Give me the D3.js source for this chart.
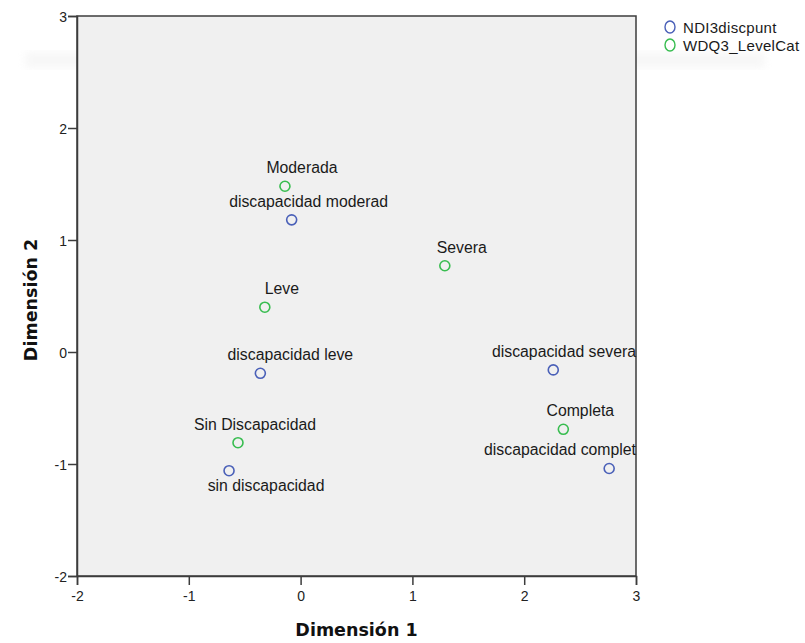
<!DOCTYPE html>
<html>
<head>
<meta charset="utf-8">
<script src="https://cdn.jsdelivr.net/npm/d3@7"></script>
<style>
  html, body { margin: 0; padding: 0; background: #fff; }
  svg { display: block; }
</style>
</head>
<body>
<svg id="chart" width="805" height="643"></svg>
<script>
// Joint category points: dimension 1 and dimension 2 coordinates per category
const ndiLabels = ["discapacidad moderad", "discapacidad leve", "discapacidad severa", "sin discapacidad", "discapacidad complet"];
const ndiDim1   = [-0.08, -0.36, 2.26, -0.64, 2.76];
const ndiDim2   = [1.18, -0.19, -0.16, -1.06, -1.04];

const wdqLabels = ["Moderada", "Severa", "Leve", "Sin Discapacidad", "Completa"];
const wdqDim1   = [-0.14, 1.29, -0.32, -0.56, 2.35];
const wdqDim2   = [1.48, 0.77, 0.40, -0.81, -0.69];

const seriesNames = ["NDI3discpunt", "WDQ3_LevelCat"];
const xTicks = [-2, -1, 0, 1, 2, 3];
const yTicks = [-2, -1, 0, 1, 2, 3];

// Label placement tweaks (side of the marker and extra horizontal nudge, px)
const labelSide  = { "sin discapacidad": "below" };
const labelNudge = { "discapacidad leve": 13, "sin discapacidad": 20 };

const colors = ["#4a60b8", "#38bd50"];

const svg = d3.select("#chart");
const plot = { left: 77, right: 636, top: 16, bottom: 576 };

const x = d3.scaleLinear().domain([-2, 3]).range([plot.left, plot.right]);
const y = d3.scaleLinear().domain([-2, 3]).range([plot.bottom, plot.top]);

// Very faint haze band near the top of the page
const defs = svg.append("defs");
defs.append("filter").attr("id", "haze")
  .append("feGaussianBlur").attr("stdDeviation", 4);
svg.append("rect")
  .attr("x", 25).attr("y", 52).attr("width", 740).attr("height", 16)
  .attr("fill", "#f0f0f0").attr("opacity", 0.55)
  .attr("filter", "url(#haze)");

// Plot background
svg.append("rect")
  .attr("x", plot.left).attr("y", plot.top)
  .attr("width", plot.right - plot.left).attr("height", plot.bottom - plot.top)
  .attr("fill", "#f0f0f0")
  .attr("stroke", "#3c3c3c").attr("stroke-width", 1.5);

// Axes (plain hyphen for negative numbers)
const axisFont = "'Liberation Sans', Arial, sans-serif";
const fmt = d => String(d);
const xAxis = svg.append("g")
  .attr("transform", `translate(0,${plot.bottom})`)
  .call(d3.axisBottom(x).tickValues(xTicks).tickFormat(fmt).tickSize(9).tickPadding(6));
const yAxis = svg.append("g")
  .attr("transform", `translate(${plot.left},0)`)
  .call(d3.axisLeft(y).tickValues(yTicks).tickFormat(fmt).tickSize(9).tickPadding(1));

[xAxis, yAxis].forEach(a => {
  a.select(".domain").attr("stroke", "#3c3c3c").attr("stroke-width", 1.5);
  a.selectAll(".tick line").attr("stroke", "#3c3c3c").attr("stroke-width", 1.5);
  a.selectAll(".tick text")
    .attr("fill", "#222")
    .style("font-family", axisFont)
    .style("font-size", "14px");
});
yAxis.selectAll(".tick text").attr("dy", "0.36em");

// Axis titles
const titleFont = "'DejaVu Sans', Verdana, sans-serif";
svg.append("text")
  .attr("x", (plot.left + plot.right) / 2).attr("y", 636)
  .attr("text-anchor", "middle")
  .style("font-family", titleFont).style("font-weight", "bold").style("font-size", "17.5px")
  .attr("fill", "#111")
  .text("Dimensión 1");
svg.append("text")
  .attr("transform", `translate(37,${(plot.top + plot.bottom) / 2 + 4}) rotate(-90)`)
  .attr("text-anchor", "middle")
  .style("font-family", titleFont).style("font-weight", "bold").style("font-size", "17.5px")
  .attr("fill", "#111")
  .text("Dimensión 2");

// Points and labels
const series = [
  { name: seriesNames[0], color: colors[0], pts: ndiLabels.map((l, i) => ({ label: l, d1: ndiDim1[i], d2: ndiDim2[i] })) },
  { name: seriesNames[1], color: colors[1], pts: wdqLabels.map((l, i) => ({ label: l, d1: wdqDim1[i], d2: wdqDim2[i] })) }
];

const labelFont = "'Liberation Sans', Arial, sans-serif";
series.forEach(s => {
  const g = svg.append("g");
  g.selectAll("circle").data(s.pts).join("circle")
    .attr("cx", d => x(d.d1)).attr("cy", d => y(d.d2))
    .attr("r", 5)
    .attr("fill", "none")
    .attr("stroke", s.color).attr("stroke-width", 1.6);

  g.selectAll("text").data(s.pts).join("text")
    .style("font-family", labelFont).style("font-size", "15.8px")
    .attr("fill", "#1a1a1a")
    .attr("text-anchor", "middle")
    .text(d => d.label)
    .each(function (d) {
      const t = d3.select(this);
      const w = this.getComputedTextLength();
      let cx = x(d.d1) + 17 + (labelNudge[d.label] || 0);
      if (cx + w / 2 > plot.right) cx = plot.right - w / 2;
      const below = labelSide[d.label] === "below";
      t.attr("x", cx).attr("y", below ? y(d.d2) + 20 : y(d.d2) - 13);
    });
});

// Legend
const legend = svg.append("g").attr("transform", "translate(670,27)");
series.forEach((s, i) => {
  const row = legend.append("g").attr("transform", `translate(0,${i * 18})`);
  row.append("ellipse")
    .attr("rx", 5).attr("ry", 6)
    .attr("fill", "none").attr("stroke", s.color).attr("stroke-width", 1.4);
  row.append("text")
    .attr("x", 13).attr("y", 5.5)
    .style("font-family", labelFont).style("font-size", "15px")
    .style("letter-spacing", "0.3px")
    .attr("fill", "#1a1a1a")
    .text(s.name);
});
</script>
</body>
</html>
